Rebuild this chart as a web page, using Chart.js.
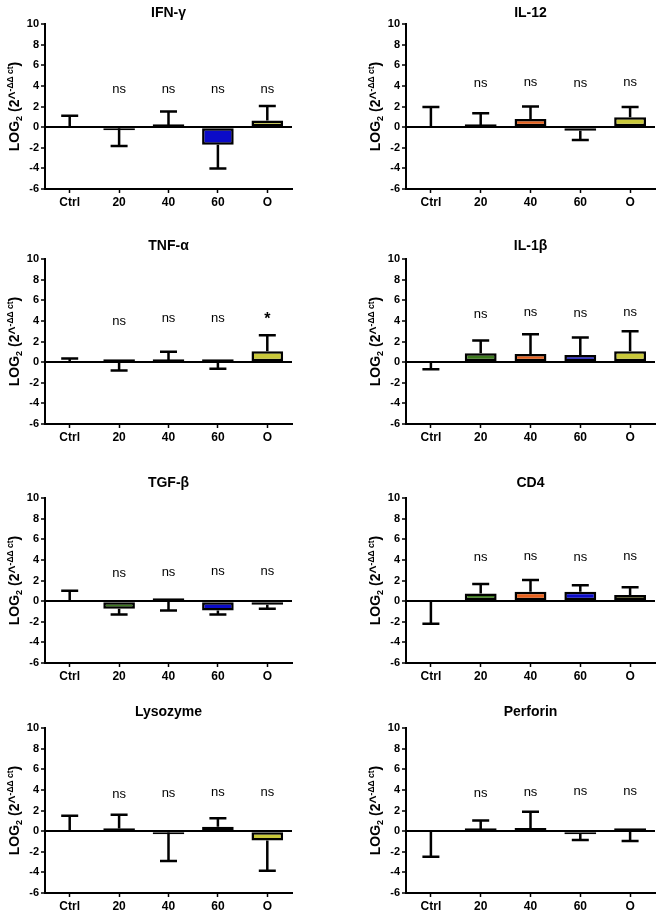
<!DOCTYPE html>
<html><head><meta charset="utf-8">
<script src="https://cdn.jsdelivr.net/npm/chart.js@4/dist/chart.umd.min.js"></script>
<style>
html,body{margin:0;padding:0;background:#fff;}
body{width:658px;height:913px;position:relative;overflow:hidden;}
canvas{position:absolute;display:block;}
</style></head><body>
<script>
// ---------- data ----------
const categories = ['Ctrl', '20', '40', '60', 'O'];
const panelTitles = ['IFN-γ', 'IL-12', 'TNF-α', 'IL-1β', 'TGF-β', 'CD4', 'Lysozyme', 'Perforin'];
const yTicksMin = -6, yTicksMax = 10, yTicksStep = 2;

// mean log2 fold change per group
const ifnValues      = [0, -0.12, 0.12, -1.7, 0.65];
const il12Values     = [0, 0.15, 0.8, -0.35, 0.95];
const tnfValues      = [0, 0.05, 0.15, 0.02, 1.05];
const il1bValues     = [0, 0.85, 0.8, 0.7, 1.05];
const tgfValues      = [0, -0.75, 0.05, -0.9, -0.35];
const cd4Values      = [0, 0.75, 0.9, 0.9, 0.6];
const lysozymeValues = [0, 0.25, -0.13, 0.42, -0.9];
const perforinValues = [0, 0.18, 0.3, -0.2, 0.1];

// one-sided error (signed: direction of the whisker)
const ifnErrors      = [1.1, -1.7, 1.4, -2.3, 1.4];
const il12Errors     = [1.95, 1.2, 1.2, -0.9, 1.0];
const tnfErrors      = [0.35, -0.85, 0.85, -0.67, 1.55];
const il1bErrors     = [-0.7, 1.25, 1.9, 1.7, 1.95];
const tgfErrors      = [1.0, -0.55, -0.95, -0.4, -0.4];
const cd4Errors      = [-2.2, 0.9, 1.15, 0.65, 0.75];
const lysozymeErrors = [1.5, 1.35, -2.77, 0.84, -2.95];
const perforinErrors = [-2.48, 0.85, 1.57, -0.65, -1.05];

// significance labels and their height (data units)
const ifnSig = ['', 'ns', 'ns', 'ns', 'ns'];
const il12Sig = ['', 'ns', 'ns', 'ns', 'ns'];
const tnfSig = ['', 'ns', 'ns', 'ns', '*'];
const il1bSig = ['', 'ns', 'ns', 'ns', 'ns'];
const tgfSig = ['', 'ns', 'ns', 'ns', 'ns'];
const cd4Sig = ['', 'ns', 'ns', 'ns', 'ns'];
const lysozymeSig = ['', 'ns', 'ns', 'ns', 'ns'];
const perforinSig = ['', 'ns', 'ns', 'ns', 'ns'];

const ifnSigY      = [0, 3.7, 3.7, 3.7, 3.7];
const il12SigY     = [0, 4.25, 4.3, 4.2, 4.3];
const tnfSigY      = [0, 3.9, 4.2, 4.2, 4.1];
const il1bSigY     = [0, 4.6, 4.8, 4.7, 4.85];
const tgfSigY      = [0, 2.7, 2.8, 2.9, 2.85];
const cd4SigY      = [0, 4.2, 4.35, 4.2, 4.3];
const lysozymeSigY = [0, 3.6, 3.7, 3.8, 3.8];
const perforinSigY = [0, 3.7, 3.8, 3.87, 3.87];

const groupColors = ['rgba(255,255,255,0)', '#3d7a1e', '#e8621e', '#0b0bc8', '#c9c83a'];
const groupBorders = ['rgba(0,0,0,0)', '#000', '#000', '#000', '#000'];

// ---------- layout ----------
const FONT = '"Liberation Sans", Arial, Helvetica, sans-serif';
const plotTops = [24, 259, 498, 728];
const titleGaps = [11, 13, 15, 16];
const PLOT_H = 165, PAD_TOP = 30, XAXIS_H = 22;

const panels = [
  [ifnValues, ifnErrors, ifnSig, ifnSigY],
  [il12Values, il12Errors, il12Sig, il12SigY],
  [tnfValues, tnfErrors, tnfSig, tnfSigY],
  [il1bValues, il1bErrors, il1bSig, il1bSigY],
  [tgfValues, tgfErrors, tgfSig, tgfSigY],
  [cd4Values, cd4Errors, cd4Sig, cd4SigY],
  [lysozymeValues, lysozymeErrors, lysozymeSig, lysozymeSigY],
  [perforinValues, perforinErrors, perforinSig, perforinSigY]
];

const extrasPlugin = {
  id: 'extras',
  afterDatasetsDraw(chart) {
    const o = chart.options.plugins.extras;
    const ctx = chart.ctx, ca = chart.chartArea;
    const ys = chart.scales.y;
    const meta = chart.getDatasetMeta(0);
    ctx.save();
    // error bars
    ctx.strokeStyle = '#000';
    ctx.lineWidth = 2.5;
    ctx.lineCap = 'butt';
    o.values.forEach((v, i) => {
      const px = meta.data[i].x;
      const y0 = ys.getPixelForValue(v);
      const y1 = ys.getPixelForValue(v + o.errors[i]);
      ctx.beginPath();
      ctx.moveTo(px, y0); ctx.lineTo(px, y1);
      ctx.moveTo(px - 8.5, y1); ctx.lineTo(px + 8.5, y1);
      ctx.stroke();
    });
    // significance labels
    ctx.fillStyle = '#000';
    ctx.textAlign = 'center';
    ctx.textBaseline = 'middle';
    o.sig.forEach((s, i) => {
      if (!s) return;
      ctx.font = (s === '*' ? 'bold 16px ' : '13px ') + FONT;
      ctx.fillText(s, meta.data[i].x, ys.getPixelForValue(o.sigY[i]));
    });
    // title
    ctx.font = 'bold 14px ' + FONT;
    ctx.fillText(o.title, (ca.left + ca.right) / 2, ca.top - o.titleGap);
    // y axis label with sub/superscript
    const segs = [
      {t: 'LOG', f: 'bold 14px ' + FONT, dy: 0},
      {t: '2', f: 'bold 9px ' + FONT, dy: 3},
      {t: ' (2^', f: 'bold 14px ' + FONT, dy: 0},
      {t: '-ΔΔ ct', f: 'bold 8.5px ' + FONT, dy: -6},
      {t: ')', f: 'bold 14px ' + FONT, dy: 0}
    ];
    let total = 0;
    segs.forEach(s => { ctx.font = s.f; s.w = ctx.measureText(s.t).width; total += s.w; });
    ctx.translate(ca.left - 31, (ca.top + ca.bottom) / 2);
    ctx.rotate(-Math.PI / 2);
    ctx.textAlign = 'left';
    ctx.textBaseline = 'alphabetic';
    let xx = -total / 2;
    segs.forEach(s => { ctx.font = s.f; ctx.fillText(s.t, xx, 5 + s.dy); xx += s.w; });
    ctx.restore();
  }
};

panels.forEach((p, k) => {
  const col = k % 2, row = Math.floor(k / 2);
  const cv = document.createElement('canvas');
  cv.width = 329;
  cv.height = PAD_TOP + PLOT_H + XAXIS_H;
  cv.style.left = (col * 329) + 'px';
  cv.style.top = (plotTops[row] - PAD_TOP) + 'px';
  document.body.appendChild(cv);
  const yWidth = col ? 77 : 45;
  const padRight = col ? 3 : 37;
  new Chart(cv, {
    type: 'bar',
    data: {
      labels: categories,
      datasets: [{
        data: p[0],
        backgroundColor: groupColors,
        borderColor: groupBorders,
        borderWidth: 2.5,
        borderSkipped: false,
        minBarLength: 3,
        categoryPercentage: 1,
        barPercentage: 0.64
      }]
    },
    options: {
      responsive: false,
      animation: false,
      devicePixelRatio: 1,
      layout: {padding: {top: PAD_TOP, left: 0, right: padRight, bottom: 0}},
      plugins: {
        legend: {display: false},
        tooltip: {enabled: false},
        title: {display: false},
        extras: {values: p[0], errors: p[1], sig: p[2], sigY: p[3], title: panelTitles[k], titleGap: titleGaps[row]}
      },
      scales: {
        x: {
          offset: true,
          grid: {display: true, drawOnChartArea: false, offset: false, drawTicks: true, tickLength: 4, tickColor: '#000', tickWidth: 1.5},
          border: {display: true, color: '#000', width: 2},
          ticks: {color: '#000', font: {family: FONT, size: 12, weight: 'bold'}, padding: 2, maxRotation: 0, autoSkip: false},
          afterFit: s => { s.height = XAXIS_H; }
        },
        y: {
          min: yTicksMin, max: yTicksMax,
          grid: {
            drawOnChartArea: true, drawTicks: true, tickLength: 4, tickColor: '#000', tickWidth: 1.5,
            color: c => (c.tick && c.tick.value === 0) ? '#000' : 'rgba(0,0,0,0)', lineWidth: 2
          },
          border: {display: true, color: '#000', width: 2},
          ticks: {stepSize: yTicksStep, color: '#000', font: {family: FONT, size: 11, weight: 'bold'}, padding: 2},
          afterFit: s => { s.width = yWidth; }
        }
      }
    },
    plugins: [extrasPlugin]
  });
});
</script>
</body></html>
